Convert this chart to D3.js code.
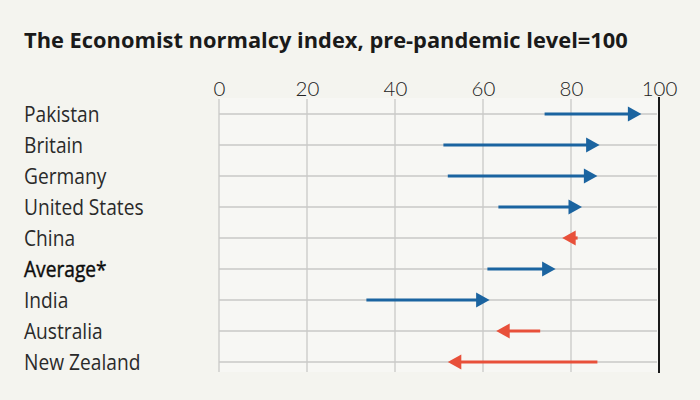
<!DOCTYPE html>
<html><head><meta charset="utf-8">
<script src="https://cdn.jsdelivr.net/npm/d3@7"></script>
<style>
html,body{margin:0;padding:0;background:#f4f4ef;}
svg{display:block;}
</style></head>
<body>
<svg id="c" width="700" height="400"></svg>
<script>
const countries = ["Pakistan","Britain","Germany","United States","China","Average*","India","Australia","New Zealand"];
const startValues = [74, 51, 52, 63.5, 81.5, 61, 33.5, 73, 86];
const endValues   = [96, 86.5, 86, 82.5, 78, 76.5, 61.5, 63, 52];
const tickValues  = [0, 20, 40, 60, 80, 100];
const titleText = "The Economist normalcy index, pre-pandemic level=100";

const blue = "#1b64a0", red = "#e8503a";
const svg = d3.select("#c");
svg.append("rect").attr("width",700).attr("height",400).attr("fill","#f4f4ef");

const x = d3.scaleLinear().domain([0,100]).range([219,659]);
const y = d3.scalePoint().domain(countries).range([114,362]);

svg.append("rect").attr("x",x(0)).attr("y",98).attr("width",x(100)-x(0)).attr("height",274).attr("fill","#f7f7f4");

svg.append("text").attr("transform","translate(24,48) scale(0.985,1)").text(titleText)
  .attr("font-family","Open Sans").attr("font-weight",700).attr("font-size",22.2).attr("fill","#1a1a1a");

// vertical gridlines
svg.selectAll(".vg").data(tickValues.filter(d=>d<100)).join("line")
  .attr("x1",d=>x(d)).attr("x2",d=>x(d)).attr("y1",99).attr("y2",372)
  .attr("stroke","#c9c9c7").attr("stroke-width",1.3);
// horizontal gridlines
svg.selectAll(".hg").data(countries).join("line")
  .attr("x1",x(0)).attr("x2",x(100)-2).attr("y1",d=>y(d)).attr("y2",d=>y(d))
  .attr("stroke","#c9c9c7").attr("stroke-width",1.3);
// 100 line
svg.append("line").attr("x1",x(100)).attr("x2",x(100)).attr("y1",97).attr("y2",373)
  .attr("stroke","#1a1a1a").attr("stroke-width",2);

// tick labels
const axis = d3.axisTop(x).tickValues(tickValues).tickSize(0).tickPadding(0);
const ag = svg.append("g").attr("transform","translate(0,98)").call(axis);
ag.select(".domain").remove();
ag.selectAll("text").attr("font-family","Lato").attr("font-weight",300).attr("font-size",20.5).attr("fill","#222").attr("dy","-2");

// country labels
svg.selectAll(".lab").data(countries).join("text")
  .attr("transform",d=>`translate(24,${y(d)+7.5}) scale(0.86,1)`).text(d=>d)
  .attr("font-family","Open Sans").attr("font-size",22.3)
  .attr("font-weight",400)
  .attr("fill",d=>d==="Average*"?"#0d0d0d":"#2a2a2a")
  .attr("stroke",d=>d==="Average*"?"#0d0d0d":"none")
  .attr("stroke-width",d=>d==="Average*"?0.45:0);

// arrows
const data = countries.map((c,i)=>({c,s:startValues[i],e:endValues[i]}));
const headLen = 13.5, headHalf = 7.5;
const g = svg.append("g");
data.forEach(d=>{
  const dir = d.e>=d.s?1:-1;
  const col = dir>0?blue:red;
  const yy = y(d.c);
  const xe = x(d.e), xs = x(d.s);
  const baseX = xe - dir*headLen;
  if (Math.abs(xe-xs) > headLen) {
    g.append("line").attr("x1",xs).attr("x2",baseX+dir*2).attr("y1",yy).attr("y2",yy)
      .attr("stroke",col).attr("stroke-width",3.2);
  }
  g.append("path").attr("d",`M${xe},${yy} L${baseX},${yy-headHalf} L${baseX},${yy+headHalf} Z`).attr("fill",col);
});
</script>
</body></html>
